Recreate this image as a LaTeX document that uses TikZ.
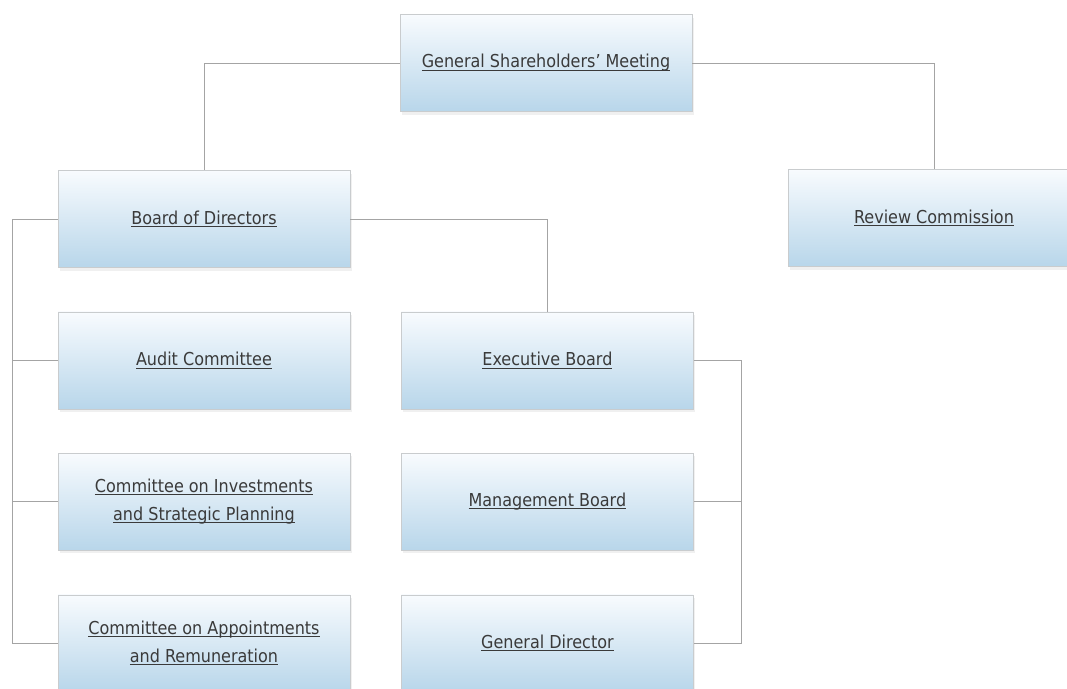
\documentclass[tikz,border=0pt]{standalone}
\usepackage{fontspec}
\setmainfont{DejaVu Sans Condensed}
\usetikzlibrary{positioning,shadows}
\definecolor{boxtop}{HTML}{F8FBFE}
\definecolor{boxbot}{HTML}{B8D6EA}
\definecolor{boxline}{HTML}{C9CCCE}
\definecolor{wire}{HTML}{A4A4A4}
\definecolor{txt}{HTML}{3A3A3A}
\newcommand{\lnk}[1]{\setbox0\hbox{#1}\rlap{\copy0}\rule[-2.5pt]{\wd0}{0.8pt}}
\begin{document}
\begin{tikzpicture}
[x=1pt,y=-1pt,node distance=44pt and 51pt,
unit/.style={rectangle,draw=boxline,top color=boxtop,bottom color=boxbot,minimum width=292pt,minimum height=97pt,align=center,text=txt,font=\fontsize{17.8}{28}\selectfont,drop shadow={opacity=0.12,shadow xshift=2pt,shadow yshift=-3pt}},
link/.style={draw=wire,line width=1pt}]
\useasboundingbox (0,0) rectangle (1067,688);
\clip (0,0) rectangle (1067,688);
\node[unit] (meeting) at (546,63) {\lnk{General Shareholders’ Meeting}};
\node[unit] (board) at (204,219) {\lnk{Board of Directors}};
\node[unit] (review) at (934,218) {\lnk{Review Commission}};
\node[unit,below=of board] (audit) {\lnk{Audit Committee}};
\node[unit,below=of audit] (invest) {\lnk{Committee on Investments}\\\lnk{and Strategic Planning}};
\node[unit,below=of invest] (appoint) {\lnk{Committee on Appointments}\\\lnk{and Remuneration}};
\node[unit,right=of audit] (exec) {\lnk{Executive Board}};
\node[unit,below=of exec] (manage) {\lnk{Management Board}};
\node[unit,below=of manage] (director) {\lnk{General Director}};
\coordinate (lbus) at ([xshift=-45pt]board.west);
\coordinate (rbus) at ([xshift=48pt]exec.east);
\draw[link] (meeting.west) -| (board.north);
\draw[link] (meeting.east) -| (review.north);
\draw[link] (board.east) -| (exec.north);
\draw[link] (board.west) -- (lbus) |- (appoint.west);
\draw[link] (audit.west) -- (audit.west -| lbus);
\draw[link] (invest.west) -- (invest.west -| lbus);
\draw[link] (exec.east) -- (rbus) |- (director.east);
\draw[link] (manage.east) -- (manage.east -| rbus);
\end{tikzpicture}
\end{document}
